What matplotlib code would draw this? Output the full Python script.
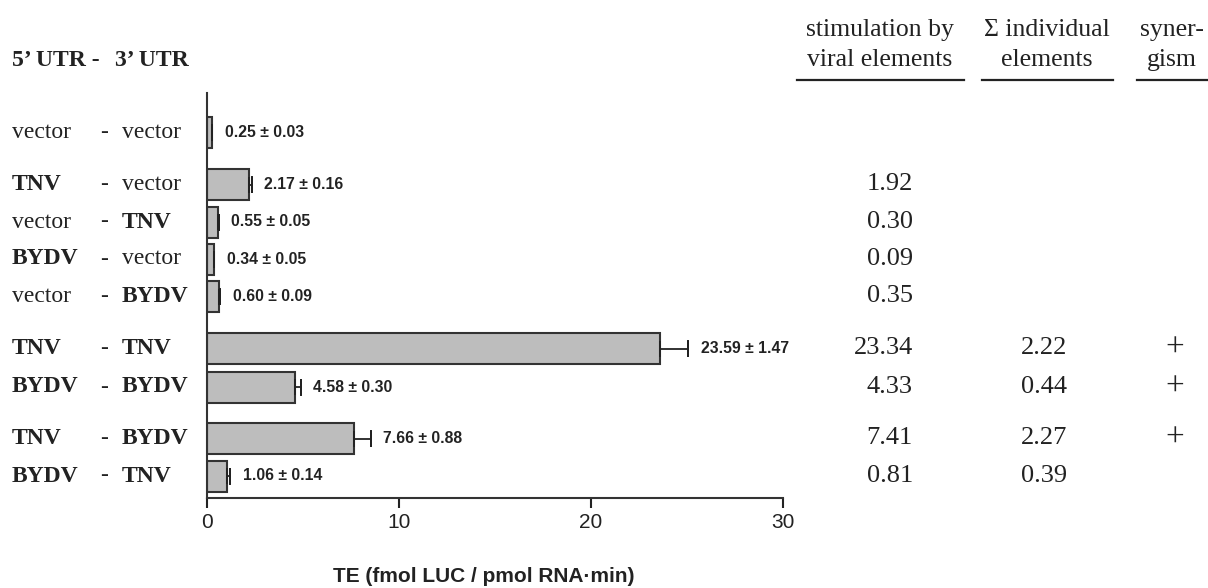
import matplotlib
matplotlib.use("Agg")
import matplotlib.pyplot as plt

# Data
utr5 = ["vector", "TNV", "vector", "BYDV", "vector", "TNV", "BYDV", "TNV", "BYDV"]
utr3 = ["vector", "vector", "TNV", "vector", "BYDV", "TNV", "BYDV", "BYDV", "TNV"]
te_mean = [0.25, 2.17, 0.55, 0.34, 0.60, 23.59, 4.58, 7.66, 1.06]
te_err = [0.03, 0.16, 0.05, 0.05, 0.09, 1.47, 0.30, 0.88, 0.14]
stimulation = ["", "1.92", "0.30", "0.09", "0.35", "23.34", "4.33", "7.41", "0.81"]
sum_individual = ["", "", "", "", "", "2.22", "0.44", "2.27", "0.39"]
synergism = ["", "", "", "", "", "+", "+", "+", ""]
x_ticks = [0, 10, 20, 30]

# Layout (pixel rows of the reference, 1208 x 588)
W, H = 1208, 588
row_y = [132.5, 184.5, 222, 259, 296.5, 348.5, 387, 438.5, 476]
ax_left, ax_right, ax_top, ax_bottom = 207, 783, 93, 498

SERIF = "Liberation Serif"
SANS = "Liberation Sans"
INK = "#222222"


def fx(x):
    return x / W


def fy(y):
    return 1 - y / H


fig = plt.figure(figsize=(W / 100, H / 100), dpi=100)
ax = fig.add_axes([fx(ax_left), fy(ax_bottom), fx(ax_right - ax_left), (ax_bottom - ax_top) / H])

# Bars with one-sided error bars
ax.barh(row_y, te_mean, height=31, color="#bdbdbd", edgecolor="#333333", linewidth=1.5, zorder=2)
ax.errorbar(te_mean, row_y, xerr=[[0] * len(te_err), te_err], fmt="none",
            ecolor="#222222", elinewidth=1.3, capsize=6, capthick=1.3, zorder=3)
# caps only on the outer end, taller than the default
ax.errorbar([m + e for m, e in zip(te_mean, te_err)], row_y, yerr=8.5, fmt="none",
            ecolor="#222222", elinewidth=1.4, capsize=0, zorder=3)
for m, e, y in zip(te_mean, te_err, row_y):
    ax.annotate(f"{m:.2f} \u00b1 {e:.2f}", xy=(m + e, y), xytext=(9, 0),
                textcoords="offset points", ha="left", va="center",
                fontsize=11.3, fontweight="bold", family=SANS, color=INK)

ax.set_xlim(0, 30)
ax.set_ylim(ax_bottom, ax_top)
ax.set_xticks(x_ticks)
ax.set_xticklabels([str(t) for t in x_ticks], fontsize=15, family=SANS, color=INK)
ax.set_yticks([])
ax.tick_params(axis="x", direction="out", length=7, width=1.5, pad=4, colors=INK)
for s in ["top", "right"]:
    ax.spines[s].set_visible(False)
for s in ["left", "bottom"]:
    ax.spines[s].set_linewidth(1.5)
    ax.spines[s].set_color("#333333")
ax.set_facecolor("none")

fig.text(fx(484), fy(576), "TE (fmol LUC / pmol RNA\u00b7min)",
         ha="center", va="center", fontsize=15, fontweight="bold", family=SANS, color=INK)

# Row labels
fig.text(fx(12), fy(61), "5\u2019 UTR -", ha="left", va="center",
         fontsize=17, fontweight="bold", family=SERIF, color=INK)
fig.text(fx(115), fy(61), "3\u2019 UTR", ha="left", va="center",
         fontsize=17, fontweight="bold", family=SERIF, color=INK)
for a, b, y in zip(utr5, utr3, row_y):
    fig.text(fx(12), fy(y), a, ha="left", va="center", fontsize=17, family=SERIF, color=INK,
             fontweight="normal" if a == "vector" else "bold")
    fig.text(fx(100), fy(y), "-", ha="left", va="center", fontsize=17, family=SERIF, color=INK)
    fig.text(fx(122), fy(y), b, ha="left", va="center", fontsize=17, family=SERIF, color=INK,
             fontweight="normal" if b == "vector" else "bold")

# Right-hand table
headers = [("stimulation by", "viral elements", 880, 797, 964),
           ("\u03a3 individual", "elements", 1047, 982, 1113),
           ("syner-", "gism", 1172, 1137, 1208)]
for top, bottom, cx, x0, x1 in headers:
    fig.text(fx(cx), fy(30), top, ha="center", va="center", fontsize=18.5, family=SERIF, color=INK)
    fig.text(fx(cx), fy(60), bottom, ha="center", va="center", fontsize=18.5, family=SERIF, color=INK)
    fig.add_artist(plt.Line2D([fx(x0), fx(x1)], [fy(80), fy(80)], color="#222222", linewidth=1.6))

for s, t, p, y in zip(stimulation, sum_individual, synergism, row_y):
    fig.text(fx(913), fy(y), s, ha="right", va="center", fontsize=19, family=SERIF, color=INK)
    fig.text(fx(1067), fy(y), t, ha="right", va="center", fontsize=19, family=SERIF, color=INK)
    fig.text(fx(1175), fy(y), p, ha="center", va="center", fontsize=24, family=SERIF, color=INK)

fig.savefig("out.png", dpi=100)
